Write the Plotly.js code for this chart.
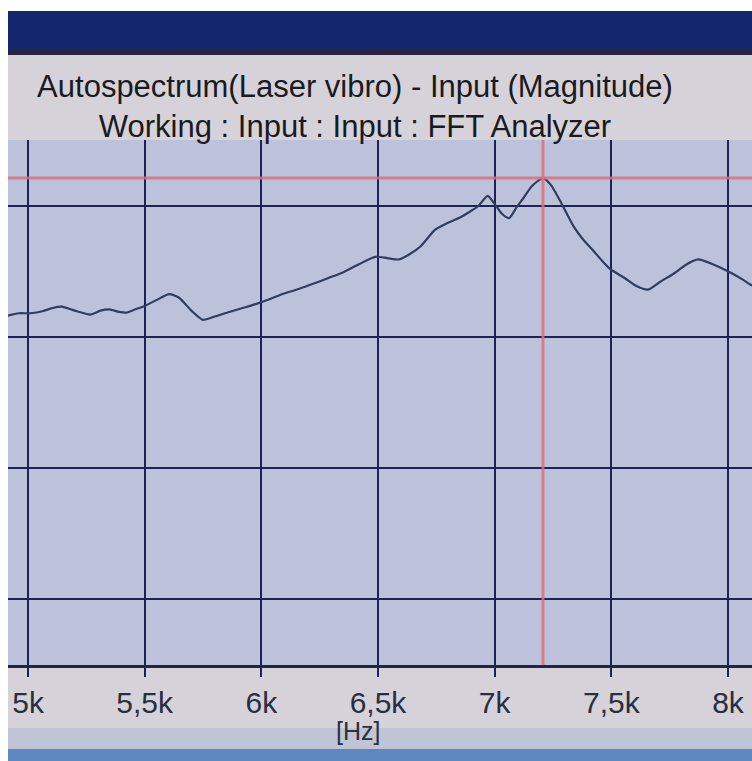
<!DOCTYPE html>
<html>
<head>
<meta charset="utf-8">
<script src="https://cdn.plot.ly/plotly-3.0.1.min.js"></script>
<style>html,body{margin:0;padding:0;background:#fff;}#chart{width:752px;height:761px;}</style>
</head>
<body>
<div id="chart"></div>
<script>
// Frequency [Hz] and magnitude (arbitrary dB-like units, no y labels shown)
const freqHz = [4908, 4960, 5010, 5062, 5105, 5144, 5200, 5267, 5310, 5349, 5390, 5421, 5460, 5492, 5550,
  5605, 5646, 5700, 5749, 5800, 5862, 5920, 5985, 6040, 6088, 6160, 6231, 6290, 6354, 6420, 6488, 6540,
  6590, 6640, 6683, 6744, 6800, 6847, 6890, 6929, 6970, 7001, 7030, 7062, 7095, 7124, 7160, 7207,
  7240, 7278, 7339, 7380, 7421, 7460, 7493, 7560, 7610, 7657, 7710, 7770, 7820, 7873, 7940, 8016, 8060, 8103];
const magnitude = [31.6, 31.8, 31.8, 31.95, 32.2, 32.3, 32.0, 31.7, 32.0, 32.1, 31.9, 31.85, 32.1, 32.3, 32.8,
  33.25, 33.0, 32.0, 31.3, 31.55, 31.9, 32.2, 32.55, 32.9, 33.25, 33.65, 34.1, 34.5, 34.95, 35.55, 36.1, 36.0,
  35.9, 36.35, 36.9, 38.15, 38.7, 39.05, 39.5, 39.95, 40.75, 40.1, 39.4, 39.05, 39.9, 40.6, 41.5, 42.1,
  41.6, 40.45, 38.4, 37.4, 36.6, 35.8, 35.2, 34.45, 33.85, 33.6, 34.2, 34.85, 35.5, 35.9, 35.5, 34.85, 34.4, 33.9];
const xTickVals = [5000, 5500, 6000, 6500, 7000, 7500, 8000];
const xTickText = ['5k', '5,5k', '6k', '6,5k', '7k', '7,5k', '8k'];
const xUnitLabel = '[Hz]';

// cursor at the spectrum peak
let iPeak = 0;
for (let i = 1; i < magnitude.length; i++) if (magnitude[i] > magnitude[iPeak]) iPeak = i;
const peakF = freqHz[iPeak], peakM = magnitude[iPeak];

const W = 752, H = 761, mL = 8, mR = 0, mT = 140, mB = 96;
const pw = W - mL - mR, ph = H - mT - mB;
const px = X => (X - mL) / pw;          // pixel -> paper x
const py = Y => (H - mB - Y) / ph;      // pixel -> paper y

const font = '"Liberation Sans", Arial, sans-serif';

const trace = {
  x: freqHz, y: magnitude, type: 'scatter', mode: 'lines',
  line: {color: '#303d5e', width: 2.2, shape: 'spline', smoothing: 0.6},
  hoverinfo: 'x+y'
};

const shapes = [
  // window decorations
  {type: 'rect', xref: 'paper', yref: 'paper', x0: px(0), x1: px(W), y0: py(0), y1: py(11), fillcolor: '#ffffff', line: {width: 0}, layer: 'below'},
  {type: 'rect', xref: 'paper', yref: 'paper', x0: px(8), x1: px(W), y0: py(11), y1: py(52), fillcolor: '#14276e', line: {width: 0}, layer: 'below'},
  {type: 'rect', xref: 'paper', yref: 'paper', x0: px(8), x1: px(W), y0: py(50), y1: py(55), fillcolor: '#2a2440', line: {width: 0}, layer: 'below'},
  {type: 'rect', xref: 'paper', yref: 'paper', x0: px(8), x1: px(W), y0: py(728), y1: py(749), fillcolor: '#bfc5d5', line: {width: 0}, layer: 'below'},
  {type: 'rect', xref: 'paper', yref: 'paper', x0: px(8), x1: px(W), y0: py(749), y1: py(H), fillcolor: '#5f87bf', line: {width: 0}, layer: 'below'},
  {type: 'rect', xref: 'paper', yref: 'paper', x0: px(0), x1: px(8), y0: py(0), y1: py(H), fillcolor: '#ffffff', line: {width: 0}, layer: 'below'},
  // red cursor at peak
  {type: 'line', xref: 'x', yref: 'paper', x0: peakF, x1: peakF, y0: 0, y1: 1, line: {color: 'rgba(225,110,120,0.85)', width: 3}},
  {type: 'line', xref: 'paper', yref: 'y', x0: 0, x1: 1, y0: peakM, y1: peakM, line: {color: 'rgba(225,110,120,0.85)', width: 3}}
];

const layout = {
  width: W, height: H,
  margin: {l: mL, r: mR, t: mT, b: mB, pad: 0},
  paper_bgcolor: '#d5d3d9',
  plot_bgcolor: '#bcc2dc',
  showlegend: false,
  title: {
    text: 'Autospectrum(Laser vibro) - Input (Magnitude)<br>Working : Input : Input : FFT Analyzer',
    x: 355 / W, xref: 'container', xanchor: 'center',
    y: 1 - 97 / H, yref: 'container', yanchor: 'middle',
    font: {family: font, size: 31, color: '#1a1a20'}
  },
  xaxis: {
    range: [4914, 8103], fixedrange: true,
    tickvals: xTickVals, ticktext: xTickText,
    showgrid: true, gridcolor: '#1c2350', gridwidth: 2.2,
    ticks: 'outside', ticklen: 9, tickwidth: 2, tickcolor: '#1c2350',
    showline: true, linecolor: '#22263c', linewidth: 3, mirror: false,
    zeroline: false,
    tickfont: {family: font, size: 30, color: '#2a2e3e'}
  },
  yaxis: {
    range: [5, 45], fixedrange: true,
    tick0: 0, dtick: 10,
    showgrid: true, gridcolor: '#1c2350', gridwidth: 2.2,
    showticklabels: false, ticks: '', zeroline: false, showline: false
  },
  annotations: [{
    text: xUnitLabel, xref: 'paper', yref: 'paper', x: px(358), y: py(731),
    xanchor: 'center', yanchor: 'middle', showarrow: false,
    font: {family: font, size: 25, color: '#2a2e3e'}
  }],
  shapes: shapes
};

Plotly.newPlot('chart', [trace], layout, {displayModeBar: false, staticPlot: true});
</script>
</body>
</html>
